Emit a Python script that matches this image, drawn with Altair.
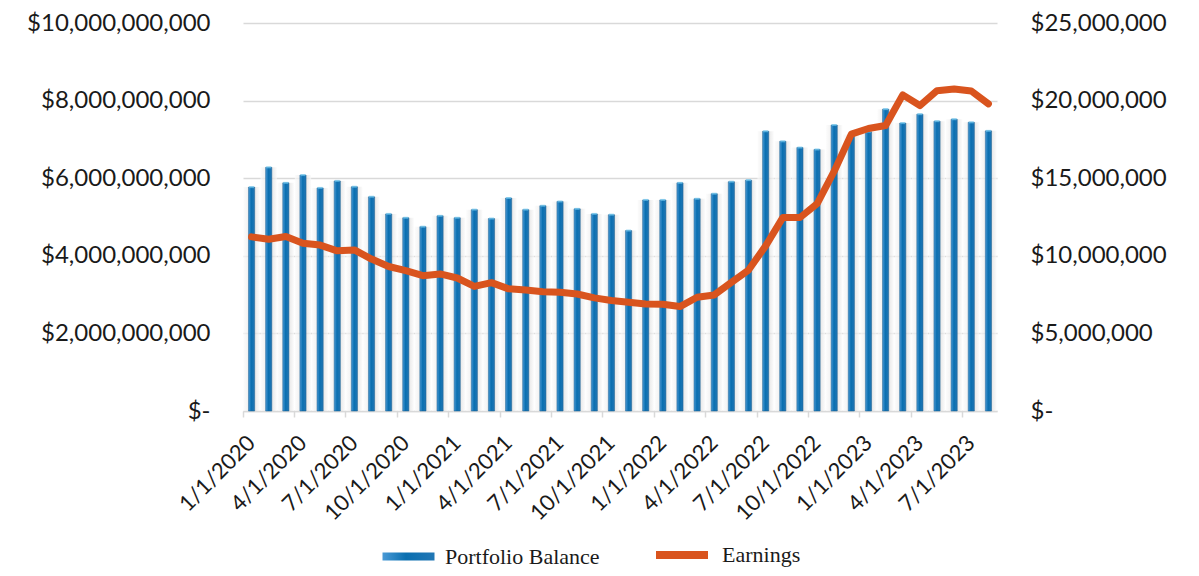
import altair as alt
import pandas as pd

# Categories: monthly periods Jan 2020 .. Aug 2023
years = [2020, 2021, 2022, 2023]
month_nums = list(range(1, 13))
months = [f"{m}/1/{y}" for y in years for m in month_nums][:44]
quarter_ticks = [m for m in months if m.split("/")[0] in ("1", "4", "7", "10")]

# Portfolio balance (billions of $)
balance_bn = [5.77, 6.28, 5.88, 6.08, 5.75, 5.93, 5.78, 5.52, 5.08, 4.98,
              4.75, 5.03, 4.98, 5.19, 4.96, 5.49, 5.19, 5.29, 5.40, 5.21,
              5.08, 5.06, 4.65, 5.44, 5.44, 5.88, 5.47, 5.60, 5.91, 5.95,
              7.21, 6.95, 6.79, 6.74, 7.37, 7.12, 7.20, 7.78, 7.42, 7.65,
              7.47, 7.52, 7.44, 7.22]

# Earnings (millions of $)
earnings_mn = [11.22, 11.07, 11.24, 10.81, 10.69, 10.32, 10.38, 9.79, 9.31, 9.04,
               8.72, 8.83, 8.57, 8.03, 8.27, 7.87, 7.80, 7.69, 7.65, 7.54,
               7.29, 7.12, 7.01, 6.90, 6.88, 6.73, 7.33, 7.48, 8.29, 9.08,
               10.64, 12.46, 12.46, 13.35, 15.45, 17.84, 18.20, 18.40, 20.37, 19.68,
               20.64, 20.75, 20.62, 19.79]

bar_series = "Portfolio Balance"
line_series = "Earnings"
left_ticks = [0, 2e9, 4e9, 6e9, 8e9, 10e9]
right_ticks = [0, 5e6, 10e6, 15e6, 20e6, 25e6]

df = pd.DataFrame({
    "month": months,
    "balance": [b * 1e9 for b in balance_bn],
    "earnings": [e * 1e6 for e in earnings_mn],
    "bar_series": bar_series,
    "line_series": line_series,
})

FONT = "Lato"
TXT = "#1a1a1a"
GRID = "#d9d9d9"
ORANGE = "#d9541e"

x_enc = alt.X(
    "month:O", sort=months,
    scale=alt.Scale(paddingInner=0, paddingOuter=0),
    axis=alt.Axis(values=quarter_ticks, bandPosition=0, labelAngle=-45,
                  labelAlign="right", labelBaseline="middle",
                  labelFont=FONT, labelFontSize=22, labelColor=TXT,
                  labelPadding=22, ticks=True, tickSize=6,
                  tickColor=GRID, tickWidth=1.5, domainColor=GRID,
                  domainWidth=1.5, grid=False, title=None, labelOverlap=False),
)

y_left = alt.Y(
    "balance:Q",
    scale=alt.Scale(domain=[0, 1e10]),
    axis=alt.Axis(values=left_ticks,
                  labelExpr="datum.value == 0 ? '$-\u00a0\u00a0\u00a0' : '$' + format(datum.value, ',')",
                  labelFont=FONT, labelFontSize=24, labelColor=TXT,
                  labelPadding=33, labelLimit=400, ticks=False, domain=False,
                  grid=True, gridColor=GRID, gridWidth=1.5, title=None),
)

shadow_grad = alt.Gradient(
    gradient="linear", x1=0, x2=1, y1=0, y2=0,
    stops=[alt.GradientStop(offset=0, color="#fbfbfb"),
           alt.GradientStop(offset=0.3, color="#ececec"),
           alt.GradientStop(offset=0.55, color="#cdcdcd"),
           alt.GradientStop(offset=0.8, color="#e8e8e8"),
           alt.GradientStop(offset=1, color="#fbfbfb")],
)
bar_grad = alt.Gradient(
    gradient="linear", x1=0, x2=1, y1=0, y2=0,
    stops=[alt.GradientStop(offset=0, color="#4a9ad6"),
           alt.GradientStop(offset=0.45, color="#0a6fb0"),
           alt.GradientStop(offset=1, color="#2277b5")],
)

shadow = alt.Chart(df).mark_bar(
    width=alt.RelativeBandSize(0.95), color=shadow_grad, opacity=0.7
).encode(x=x_enc, y=y_left)

bars = alt.Chart(df).mark_bar(
    width=alt.RelativeBandSize(0.36), color=bar_grad,
    stroke="#1b5f8f", strokeWidth=0.5
).encode(
    x=x_enc, y=y_left,
    opacity=alt.Opacity(
        "bar_series:N",
        scale=alt.Scale(domain=[bar_series], range=[1]),
        legend=alt.Legend(
            title=None, orient="none", direction="horizontal",
            legendX=139, legendY=507,
            labelFont="Liberation Serif", labelFontSize=22, labelColor=TXT,
            symbolType="M-1,-0.15H1V0.15H-1Z", symbolSize=2704,
            symbolFillColor="#30b4ea", symbolStrokeColor="#1b6fa0",
            symbolStrokeWidth=1, symbolOpacity=1, labelOffset=10,
            labelLimit=400,
        ),
    ),
)

caps = alt.Chart(df).mark_tick(
    size=5, thickness=2, color="#6cc6f0"
).encode(x=x_enc, y=y_left)

line = alt.Chart(df).mark_line(
    strokeWidth=7, strokeJoin="round", strokeCap="round"
).encode(
    x=x_enc,
    y=alt.Y("earnings:Q", scale=alt.Scale(domain=[0, 25e6]),
            axis=alt.Axis(orient="right", values=right_ticks,
                          labelExpr="datum.value == 0 ? '$-' : '$' + format(datum.value, ',')",
                          labelFont=FONT, labelFontSize=24, labelColor=TXT,
                          labelPadding=33, labelAlign="left", labelLimit=400,
                          ticks=False, domain=False, grid=False, title=None)),
    color=alt.Color(
        "line_series:N",
        scale=alt.Scale(domain=[line_series], range=[ORANGE]),
        legend=alt.Legend(
            title=None, orient="none", direction="horizontal",
            legendX=409, legendY=502,
            labelFont="Liberation Serif", labelFontSize=22, labelColor=TXT,
            symbolType="stroke", symbolSize=2704, symbolStrokeWidth=8,
            labelOffset=10, labelLimit=400,
        ),
    ),
)

left = alt.layer(shadow, bars, caps)
chart = alt.layer(left, line).resolve_scale(y="independent").properties(
    width=754, height=388,
    autosize=alt.AutoSizeParams(type="none"),
    padding={"left": 235, "top": 15, "right": 190, "bottom": 157},
).configure_view(stroke=None)

chart.save("out.html", embed_options={"renderer": "svg", "actions": False})
